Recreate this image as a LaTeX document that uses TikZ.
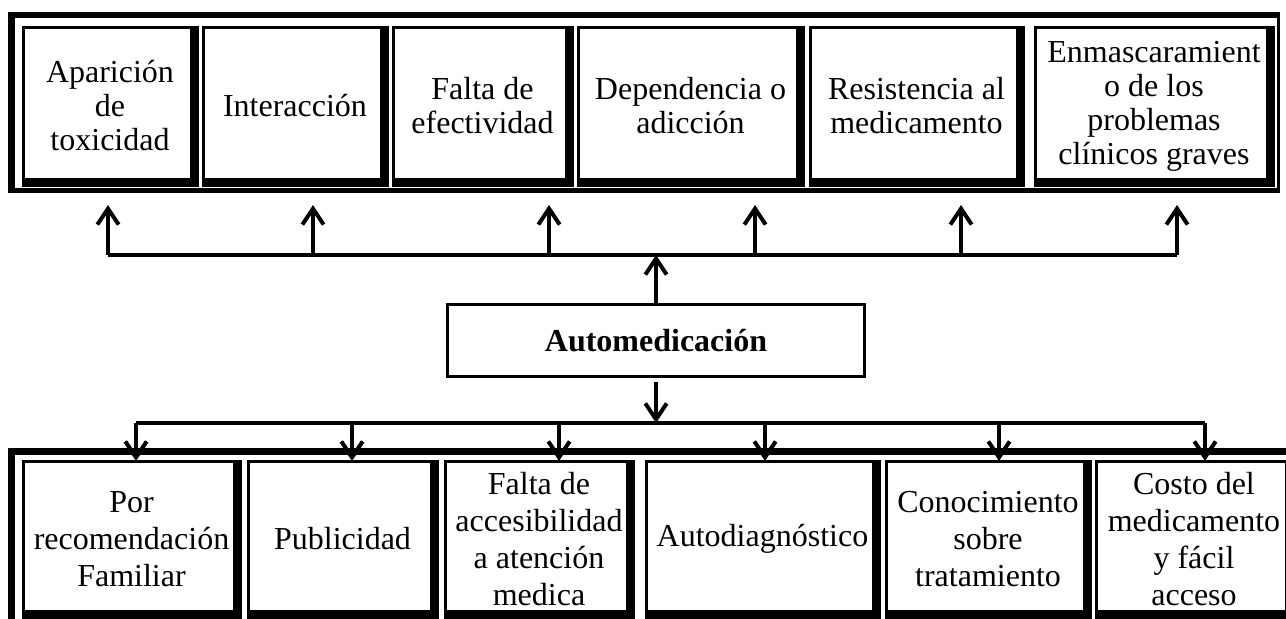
\documentclass[tikz,border=0pt]{standalone}
\usepackage{fontspec}
\setmainfont{Liberation Serif}
\usetikzlibrary{arrows.meta,positioning}
\tikzstyle{cell} = [draw, rectangle, line width=2.25pt, inner sep=0pt, align=center,
    path picture={
      \fill ([xshift=-5pt]path picture bounding box.north east) rectangle (path picture bounding box.south east);
      \fill ([yshift=5pt]path picture bounding box.south west) rectangle (path picture bounding box.south east);}]
\tikzstyle{effect} = [cell, minimum height=118.5pt, font=\fontsize{24}{25.5}\selectfont]
\tikzstyle{cause} = [cell, minimum height=117pt, font=\fontsize{24}{27.75}\selectfont]
\tikzstyle{mainbox} = [draw, rectangle, line width=2.25pt, minimum width=312.75pt,
    minimum height=54pt, font=\fontsize{24}{24}\selectfont\bfseries]
\tikzstyle{bus} = [line width=3pt]
\tikzstyle{arr} = [line width=3pt, -{Straight Barb[length=12pt,width=16pt]}]

\begin{document}
\begin{tikzpicture}[x=0.75pt, y=-0.75pt]
    \useasboundingbox (0,0) rectangle (1286,618);
    % outer frames of both rows
    \draw[line width=2.25pt] (1278.5,15) -- (1278.5,190.5);
    \draw[line width=3.75pt] (8,190.5) -- (1280,190.5);
    \draw[line width=5pt] (11.5,193) -- (11.5,15) -- (1280,15);
    \draw[line width=5.25pt] (11.5,640) -- (11.5,451.5) -- (1300,451.5);

    % upper row: consequences
    \node [effect, minimum width=130.5pt, anchor=north west] (e1) at (21.5,25.5) {Aparición\\de\\toxicidad};
    \node [effect, minimum width=138pt, right=2.25pt of e1] (e2) {Interacción};
    \node [effect, minimum width=134.25pt, right=2.25pt of e2] (e3) {Falta de\\efectividad};
    \node [effect, minimum width=168.75pt, right=2.25pt of e3] (e4) {Dependencia o\\adicción};
    \node [effect, minimum width=159.75pt, right=3pt of e4] (e5) {Resistencia al\\medicamento};
    \node [effect, minimum width=178.5pt, right=6.75pt of e5] (e6) {Enmascaramient\\o de los\\problemas\\clínicos graves};

    % lower row: causes
    \node [cause, minimum width=162.75pt, anchor=north west] (c1) at (21.5,459.5) {Por\\recomendación\\Familiar};
    \node [cause, minimum width=141.75pt, right=3.75pt of c1] (c2) {Publicidad};
    \node [cause, minimum width=141pt, right=3.75pt of c2] (c3) {Falta de\\accesibilidad\\a atención\\medica};
    \node [cause, minimum width=174.75pt, right=7.5pt of c3] (c4) {Autodiagnóstico};
    \node [cause, minimum width=153pt, right=3pt of c4] (c5) {Conocimiento\\sobre\\tratamiento};
    \node [cause, minimum width=147pt, right=2.25pt of c5] (c6) {Costo del\\medicamento\\y fácil\\acceso};

    % central box
    \node [mainbox] (automed) at (656,340.5) {Automedicación};

    % upper connectors
    \coordinate (busL) at (108,255);
    \coordinate (busR) at (1177,255);
    \coordinate (u1) at (108,205);
    \coordinate (u2) at (313,205);
    \coordinate (u3) at (549,205);
    \coordinate (u4) at (755,205);
    \coordinate (u5) at (961,205);
    \coordinate (u6) at (1177,205);
    \draw [bus] (busL) -- (busR);
    \draw [arr] (automed.north) -- (automed.north |- busL);
    \draw [arr] (u1 |- busL) -- (u1);
    \draw [arr] (u2 |- busL) -- (u2);
    \draw [arr] (u3 |- busL) -- (u3);
    \draw [arr] (u4 |- busL) -- (u4);
    \draw [arr] (u5 |- busL) -- (u5);
    \draw [arr] (u6 |- busL) -- (u6);

    % lower connectors
    \coordinate (lowL) at (136,423);
    \coordinate (lowR) at (1205,423);
    \coordinate (d1) at (136,461);
    \coordinate (d2) at (352,461);
    \coordinate (d3) at (559,461);
    \coordinate (d4) at (765,461);
    \coordinate (d5) at (999,461);
    \coordinate (d6) at (1205,461);
    \draw [bus] (lowL) -- (lowR);
    \draw [arr] ([yshift=-3pt]automed.south) -- (automed.south |- lowL);
    \draw [arr] (d1 |- lowL) -- (d1);
    \draw [arr] (d2 |- lowL) -- (d2);
    \draw [arr] (d3 |- lowL) -- (d3);
    \draw [arr] (d4 |- lowL) -- (d4);
    \draw [arr] (d5 |- lowL) -- (d5);
    \draw [arr] (d6 |- lowL) -- (d6);
\end{tikzpicture}
\end{document}
